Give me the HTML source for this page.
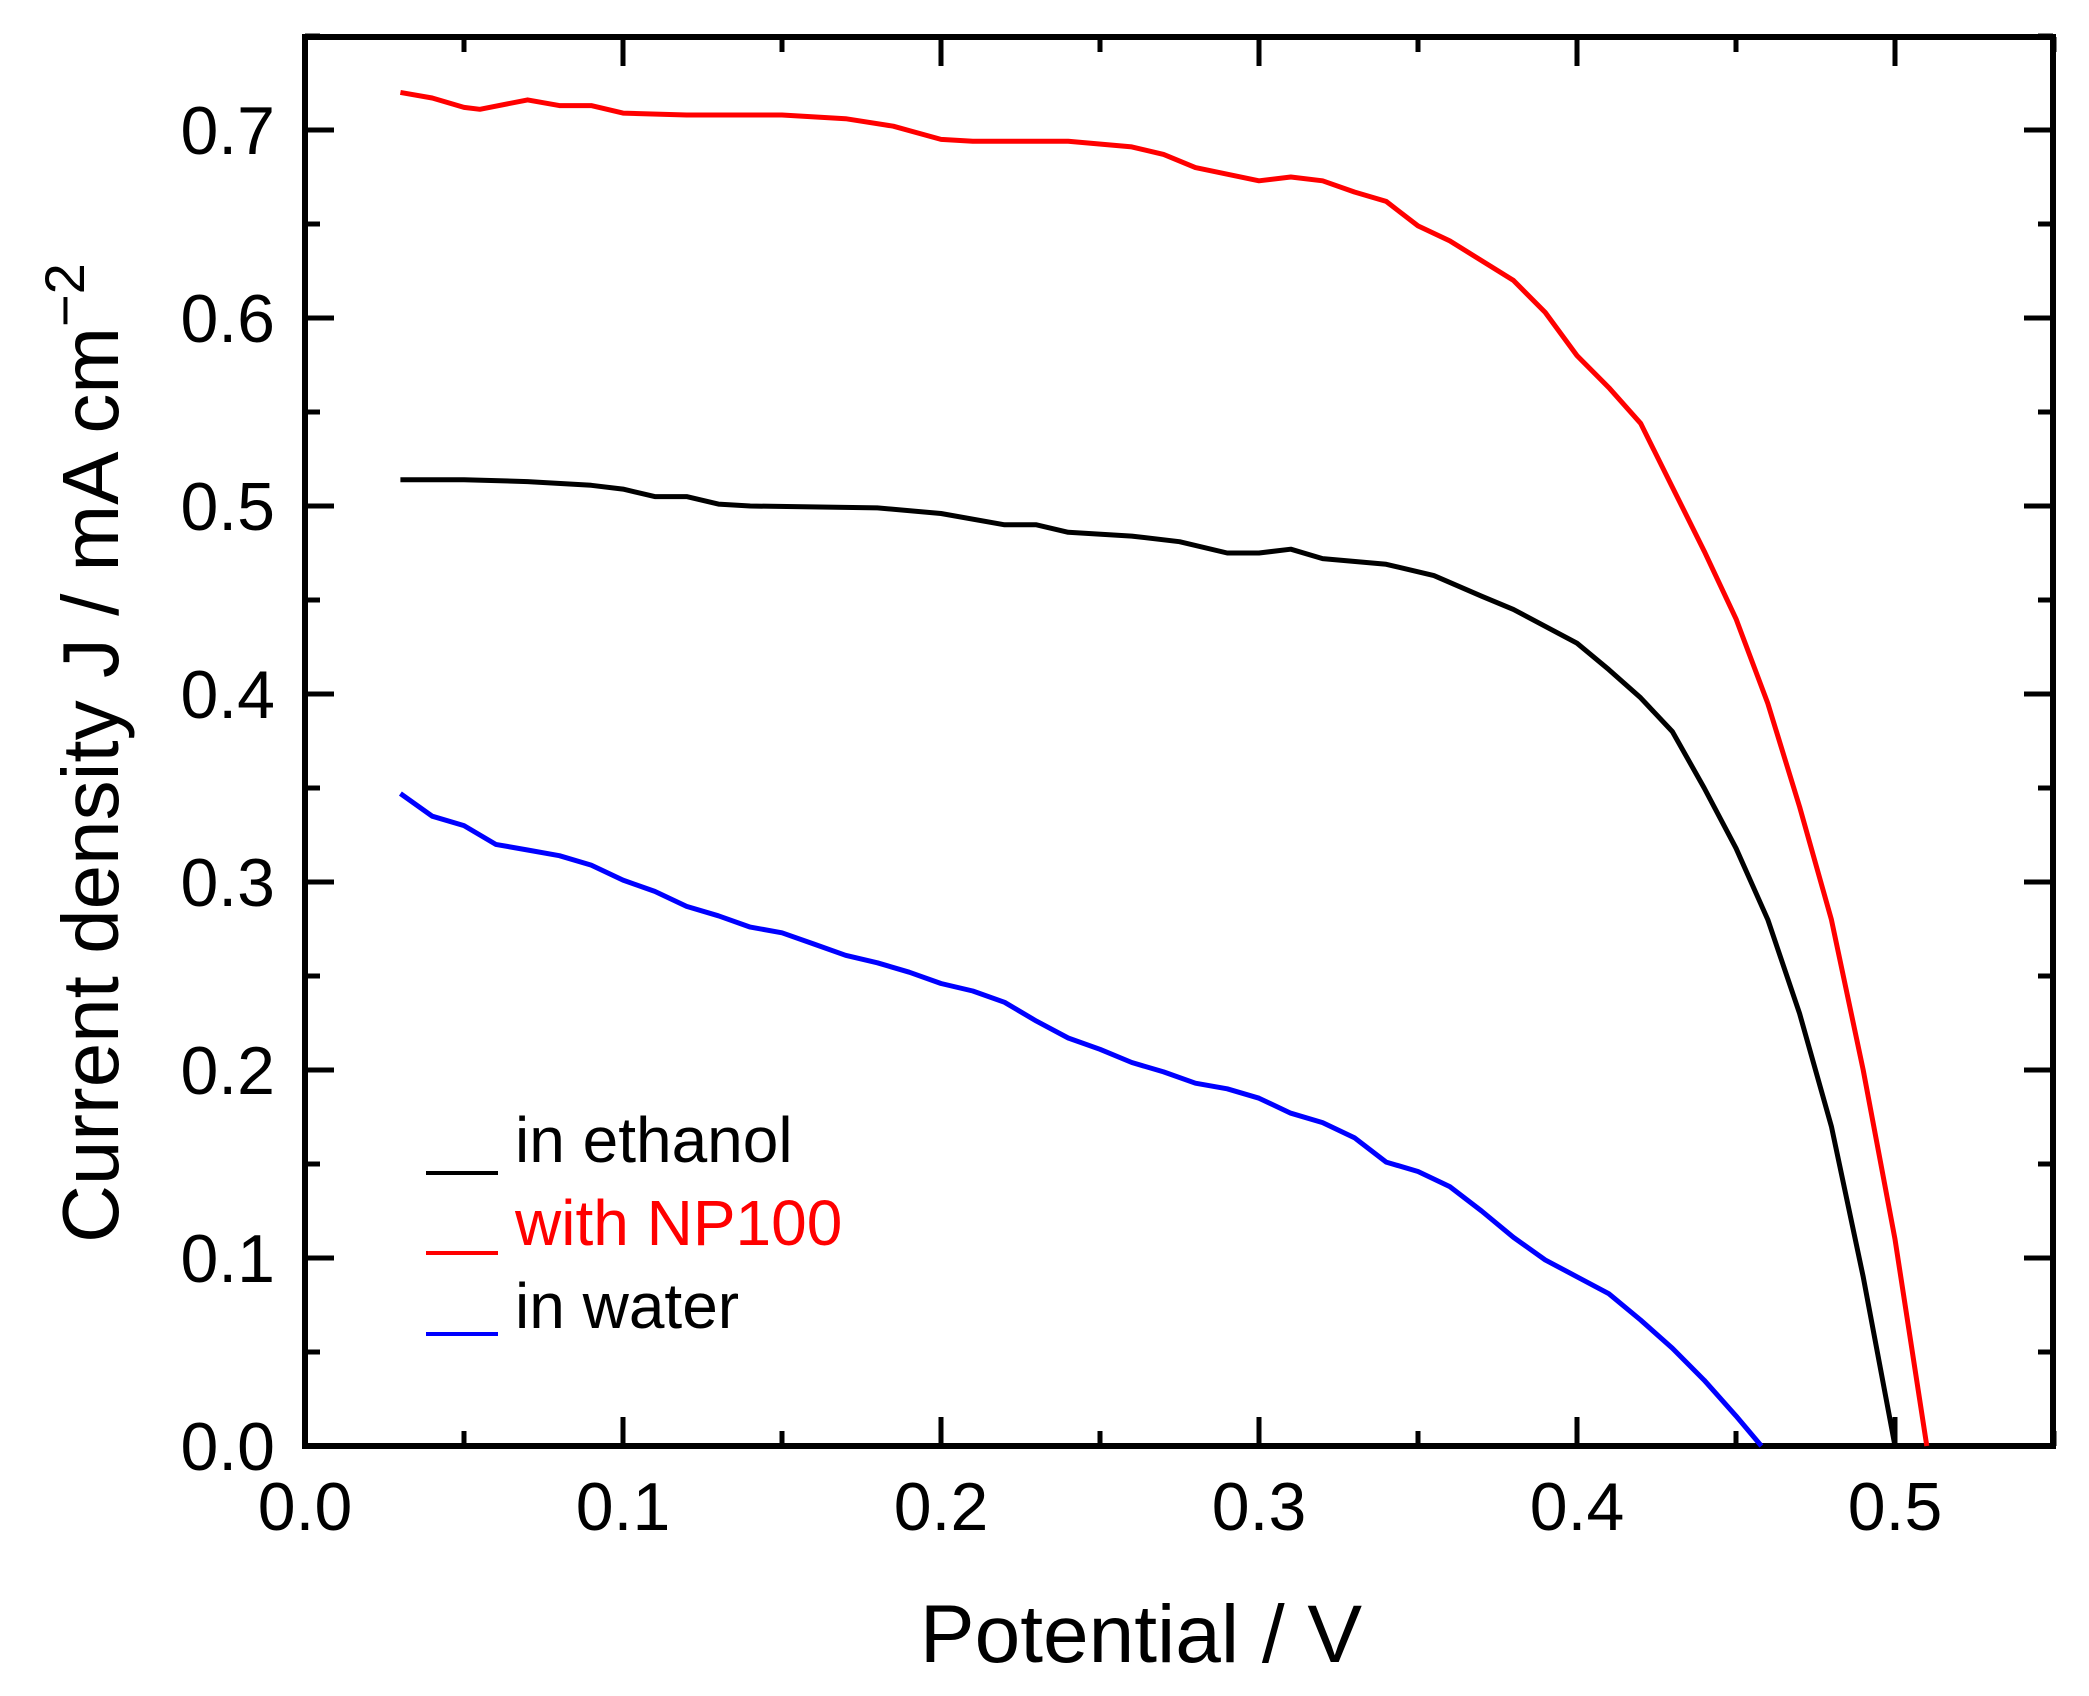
<!DOCTYPE html>
<html><head><meta charset="utf-8"><style>
html,body{margin:0;padding:0;background:#fff}
svg{display:block}
text{font-family:"Liberation Sans",Arial,sans-serif}
</style></head><body>
<svg id="s" width="2089" height="1696" viewBox="0 0 2089 1696" xmlns="http://www.w3.org/2000/svg">
<g id="g"></g>
<text x="1141" y="1662" font-size="82" text-anchor="middle">Potential / V</text>
<text transform="translate(118,753) rotate(-90)" font-size="80" text-anchor="middle">Current density J / mA cm<tspan dy="-34" font-size="56">−2</tspan></text>
<line x1="426" y1="1173" x2="498" y2="1173" stroke="#000" stroke-width="4"/>
<line x1="426" y1="1253" x2="498" y2="1253" stroke="#f00" stroke-width="4"/>
<line x1="426" y1="1334" x2="498" y2="1334" stroke="#00f" stroke-width="4"/>
<text x="515" y="1162" font-size="64">in ethanol</text>
<text x="515" y="1245" font-size="64" fill="#f00">with NP100</text>
<text x="515" y="1328" font-size="64">in water</text>
</svg>
<script>
var X0=305,XS=3180,Y0=1446,YS=1880;
function px(x){return X0+x*XS}function py(y){return Y0-y*YS}
var g=document.getElementById('g'),h='';
for(var i=0;i<=11;i++){var v=i*0.05,x=px(v),L=i%2?15:29;
h+='<line x1="'+x+'" y1="'+Y0+'" x2="'+x+'" y2="'+(Y0-L)+'" stroke="#000" stroke-width="5"/>';
h+='<line x1="'+x+'" y1="37" x2="'+x+'" y2="'+(37+L)+'" stroke="#000" stroke-width="5"/>';
if(i%2==0)h+='<text x="'+x+'" y="1530" font-size="68" text-anchor="middle">'+(v).toFixed(1)+'</text>';}
for(var i=0;i<=15;i++){var v=i*0.05,y=py(v),L=i%2?15:29;
h+='<line x1="'+X0+'" y1="'+y+'" x2="'+(X0+L)+'" y2="'+y+'" stroke="#000" stroke-width="5"/>';
h+='<line x1="2053" y1="'+y+'" x2="'+(2053-L)+'" y2="'+y+'" stroke="#000" stroke-width="5"/>';
if(i%2==0)h+='<text x="275" y="'+(y+24)+'" font-size="68" text-anchor="end">'+(v).toFixed(1)+'</text>';}
h+='<rect x="'+X0+'" y="37" width="1748" height="1409" fill="none" stroke="#000" stroke-width="6"/>';
var R=[[0.03,0.72],[0.04,0.717],[0.05,0.712],[0.055,0.711],[0.07,0.716],[0.08,0.713],[0.09,0.713],[0.1,0.709],[0.12,0.708],[0.15,0.708],[0.17,0.706],[0.185,0.702],[0.2,0.695],[0.21,0.694],[0.24,0.694],[0.26,0.691],[0.27,0.687],[0.28,0.68],[0.3,0.673],[0.31,0.675],[0.32,0.673],[0.33,0.667],[0.34,0.662],[0.35,0.649],[0.36,0.641],[0.38,0.62],[0.39,0.603],[0.4,0.58],[0.41,0.563],[0.42,0.544],[0.43,0.51],[0.44,0.476],[0.45,0.44],[0.46,0.395],[0.47,0.34],[0.48,0.28],[0.49,0.2],[0.5,0.11],[0.51,0]];
var B=[[0.03,0.514],[0.05,0.514],[0.07,0.513],[0.09,0.511],[0.1,0.509],[0.11,0.505],[0.12,0.505],[0.13,0.501],[0.14,0.5],[0.18,0.499],[0.2,0.496],[0.22,0.49],[0.23,0.49],[0.24,0.486],[0.26,0.484],[0.275,0.481],[0.29,0.475],[0.3,0.475],[0.31,0.477],[0.32,0.472],[0.34,0.469],[0.355,0.463],[0.37,0.452],[0.38,0.445],[0.39,0.436],[0.4,0.427],[0.41,0.413],[0.42,0.398],[0.43,0.38],[0.44,0.35],[0.45,0.318],[0.46,0.28],[0.465,0.255],[0.47,0.23],[0.48,0.17],[0.49,0.09],[0.5,0]];
var W=[[0.03,0.347],[0.04,0.335],[0.05,0.33],[0.06,0.32],[0.07,0.317],[0.08,0.314],[0.09,0.309],[0.1,0.301],[0.11,0.295],[0.12,0.287],[0.13,0.282],[0.14,0.276],[0.15,0.273],[0.16,0.267],[0.17,0.261],[0.18,0.257],[0.19,0.252],[0.2,0.246],[0.21,0.242],[0.22,0.236],[0.23,0.226],[0.24,0.217],[0.25,0.211],[0.26,0.204],[0.27,0.199],[0.28,0.193],[0.29,0.19],[0.3,0.185],[0.31,0.177],[0.32,0.172],[0.33,0.164],[0.34,0.151],[0.35,0.146],[0.36,0.138],[0.37,0.125],[0.38,0.111],[0.39,0.099],[0.4,0.09],[0.41,0.081],[0.42,0.067],[0.43,0.052],[0.44,0.035],[0.45,0.016],[0.458,0]];
function P(d,c){return '<polyline fill="none" stroke="'+c+'" stroke-width="5" stroke-linejoin="round" points="'+d.map(function(p){return px(p[0]).toFixed(1)+','+py(p[1]).toFixed(1)}).join(' ')+'"/>'}
h+=P(W,'#00f')+P(B,'#000')+P(R,'#f00');
g.innerHTML=h;
</script>
</body></html>
